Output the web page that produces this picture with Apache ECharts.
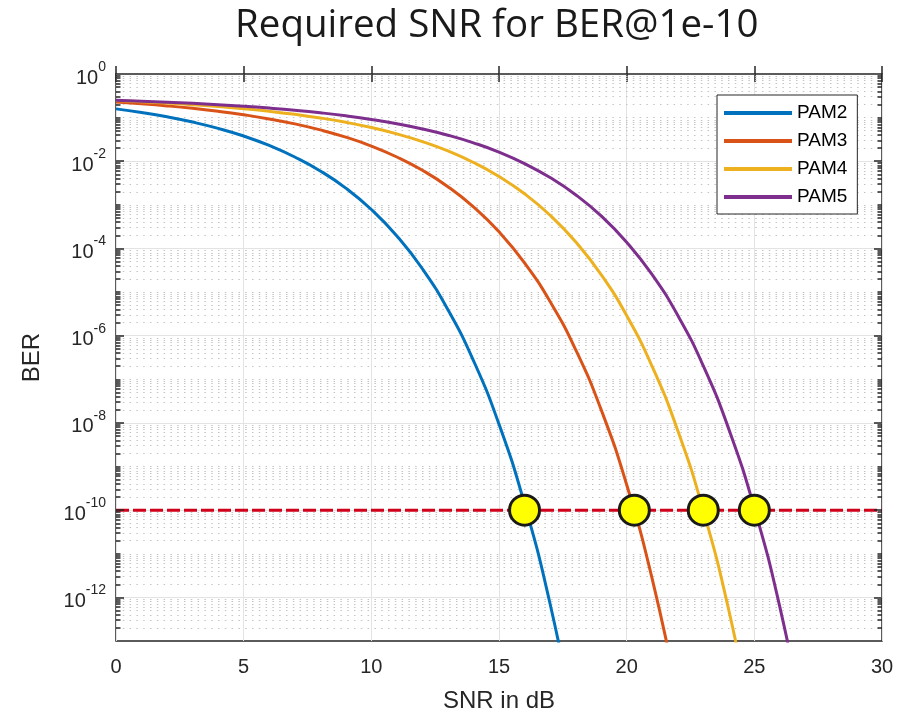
<!DOCTYPE html>
<html>
<head>
<meta charset="utf-8">
<script src="https://cdn.jsdelivr.net/npm/echarts@6/dist/echarts.min.js"></script>
<style>
html, body { margin: 0; padding: 0; background: #fff; }
#chart { width: 910px; height: 713px; }
</style>
</head>
<body>
<div id="chart"></div>
<script>
// SNR in dB, one point per dB
const snr = [0, 1, 2, 3, 4, 5, 6, 7, 8, 9, 10, 11, 12, 13, 14, 15, 16, 17, 18, 19, 20, 21, 22, 23, 24, 25, 26, 27];

// BER
const berPam2 = [0.1587, 0.1312, 0.1043, 0.0790, 0.0566, 0.0378, 0.0230, 0.0125, 0.0060, 0.00242,
    7.82e-4, 1.93e-4, 3.43e-5, 3.95e-6, 2.69e-7, 9.35e-9, 1.39e-10, 7.16e-13, 1.0e-15];
const berPam3 = [0.2273, 0.2071, 0.1856, 0.1630, 0.1398, 0.1162, 0.0934, 0.0718, 0.0523, 0.0356,
    0.0223, 0.0125, 0.00619, 0.00261, 8.99e-4, 2.41e-4, 4.67e-5, 6.08e-6, 4.82e-7, 2.02e-8,
    3.83e-10, 2.66e-12, 5.32e-15];
const berPam4 = [0.2457, 0.2309, 0.2152, 0.1981, 0.1795, 0.1600, 0.1397, 0.1188, 0.0982, 0.0780,
    0.0591, 0.0423, 0.0282, 0.01718, 0.00935, 0.00445, 0.00179, 5.78e-4, 1.43e-4, 2.52e-5,
    2.89e-6, 1.96e-7, 6.73e-9, 9.93e-11, 5.07e-13, 6.84e-16];
const berPam5 = [0.2494, 0.2383, 0.2262, 0.2127, 0.1983, 0.1826, 0.1656, 0.1478, 0.1291, 0.1100,
    0.0909, 0.0724, 0.0550, 0.0395, 0.0264, 0.0162, 0.00883, 0.00422, 0.00171, 5.58e-4,
    1.39e-4, 2.50e-5, 2.93e-6, 2.04e-7, 7.21e-9, 1.11e-10, 5.96e-13, 8.5e-16];

const names = ['PAM2', 'PAM3', 'PAM4', 'PAM5'];
const colors = ['#0072BD', '#D95319', '#EDB120', '#7E2F8E'];

// target line + crossing points
const targetBer = 1e-10;
const targetSnr = [0, 30];
const crossSnr = [16.0, 20.3, 23.0, 25.0];

// axes
const xMin = 0, xMax = 30, xStep = 5;
const yMinExp = -13, yMaxExp = 0;
const minorMult = [2, 3, 4, 5, 6, 7, 8, 9];

const font = 'Liberation Sans, Arial, sans-serif';
const ink = '#262626';

// log positions of grid lines / ticks (in decades)
const majorExp = [];
const minorExp = [];
for (let d = yMinExp; d < yMaxExp; d++) {
    if (d % 2 === 0) majorExp.push(d);
    else if (d !== yMinExp) minorExp.push(d);
    minorMult.forEach(k => minorExp.push(d + Math.log10(k)));
}

const pxPerX = 766 / (xMax - xMin);
const majorLen = 8 / pxPerX;
const minorLen = 4.5 / pxPerX;

function gridLines(values, lineStyle) {
    return {
        type: 'line', data: [], silent: true, z: 1,
        markLine: {
            z: 1,
            symbol: ['none', 'none'], silent: true, animation: false,
            label: { show: false }, emphasis: { disabled: true },
            lineStyle: lineStyle,
            data: values.map(v => ({ yAxis: v })),
        },
    };
}

function tickMarks(values, len) {
    const data = [];
    values.forEach(v => {
        data.push([{ coord: [xMin, v] }, { coord: [xMin + len, v] }]);
        data.push([{ coord: [xMax - len, v] }, { coord: [xMax, v] }]);
    });
    return {
        type: 'line', data: [], silent: true, z: 6,
        markLine: {
            z: 6,
            symbol: ['none', 'none'], silent: true, animation: false,
            label: { show: false }, emphasis: { disabled: true },
            lineStyle: { color: ink, width: 1.5, type: 'solid' },
            data: data,
        },
    };
}

const curves = [berPam2, berPam3, berPam4, berPam5].map((arr, i) => ({
    name: names[i],
    type: 'line',
    data: arr.map((v, j) => [snr[j], Math.log10(v)]),
    smooth: true,
    showSymbol: false,
    symbol: 'none',
    lineStyle: { width: 3, color: colors[i] },
    itemStyle: { color: colors[i] },
    z: 3,
}));

const chart = echarts.init(document.getElementById('chart'));

const option = {
    animation: false,
    backgroundColor: '#fff',
    title: {
        text: 'Required SNR for BER@1e-10',
        left: 230,
        top: 2,
        textStyle: { fontFamily: 'Open Sans', fontSize: 38.5, fontWeight: 'normal', color: '#1a1a1a' },
    },
    legend: {
        data: names,
        orient: 'vertical',
        left: 717,
        top: 95,
        padding: [8.5, 10, 7.5, 7],
        itemGap: 9,
        itemWidth: 68,
        itemHeight: 4,
        icon: 'rect',
        backgroundColor: '#fff',
        borderColor: ink,
        borderWidth: 1,
        borderRadius: 0,
        textStyle: { fontFamily: font, fontSize: 19, color: '#000' },
    },
    grid: {
        left: 116, right: 28, top: 74, bottom: 72,
        outerBoundsMode: 'none',
        containLabel: false,
        show: true, borderColor: ink, borderWidth: 1.5, backgroundColor: '#fff',
    },
    xAxis: [{
        type: 'value',
        min: xMin, max: xMax, interval: xStep,
        name: 'SNR in dB',
        nameLocation: 'middle',
        nameGap: 48,
        nameTextStyle: { fontFamily: font, fontSize: 24, color: ink },
        axisLine: { show: false },
        axisTick: { show: true, inside: true, length: 8, lineStyle: { color: ink, width: 1.5 } },
        axisLabel: { fontFamily: font, fontSize: 20, color: ink, margin: 16 },
        splitLine: { show: true, lineStyle: { color: '#e3e3e3', width: 1 } },
    }, {
        type: 'value',
        position: 'top',
        min: xMin, max: xMax, interval: xStep,
        axisLine: { show: false },
        axisTick: { show: true, inside: true, length: 8, lineStyle: { color: ink, width: 1.5 } },
        axisLabel: { show: false },
        splitLine: { show: false },
    }],
    yAxis: {
        type: 'value',
        min: yMinExp, max: yMaxExp, interval: 1,
        name: 'BER',
        nameLocation: 'middle',
        nameGap: 72,
        nameTextStyle: { fontFamily: font, fontSize: 24, color: ink },
        axisLine: { show: false },
        axisTick: { show: false },
        splitLine: { show: false },
        axisLabel: {
            margin: 10,
            formatter: v => (Math.round(v) % 2 === 0 ? '{b|10}{s|' + Math.round(v) + '}' : ''),
            rich: {
                b: { fontFamily: font, fontSize: 20, color: ink, padding: [8, 0, 0, 0], verticalAlign: 'bottom' },
                s: { fontFamily: font, fontSize: 14, color: ink, verticalAlign: 'top' },
            },
        },
    },
    series: [
        gridLines(minorExp, { color: '#c4c4c4', width: 1, type: [1.5, 5.3] }),
        gridLines(majorExp, { color: '#e3e3e3', width: 1, type: 'solid' }),
        tickMarks(majorExp, majorLen),
        tickMarks(minorExp, minorLen),
        ...curves,
        {
            name: 'target',
            type: 'line',
            data: targetSnr.map(x => [x, Math.log10(targetBer)]),
            showSymbol: false,
            symbol: 'none',
            lineStyle: { width: 3, color: '#d0001a', type: [13, 4] },
            z: 4,
        },
        {
            name: 'cross',
            type: 'scatter',
            data: crossSnr.map(x => [x, Math.log10(targetBer)]),
            symbol: 'circle',
            symbolSize: 30,
            itemStyle: { color: '#ffff00', borderColor: '#1a1a1a', borderWidth: 3, opacity: 1 },
            z: 5,
        },
    ],
};

chart.setOption(option);
</script>
</body>
</html>
